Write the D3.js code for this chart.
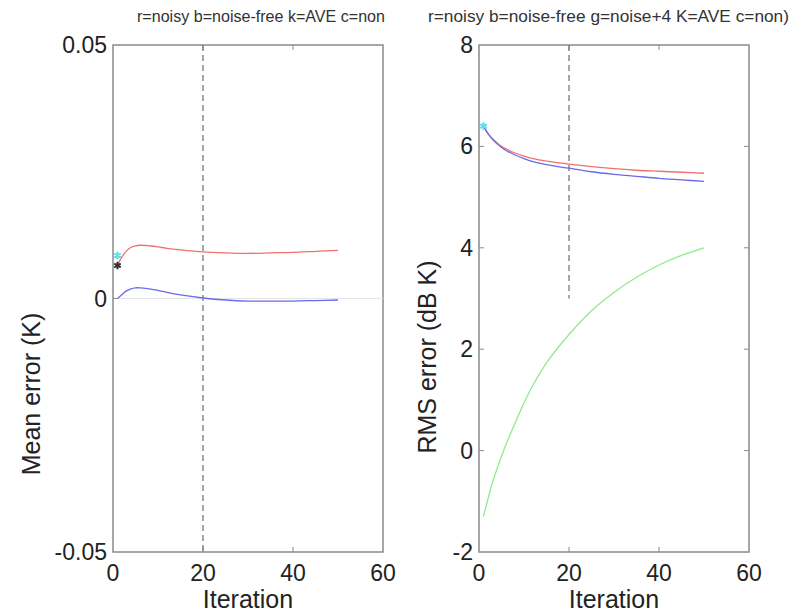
<!DOCTYPE html>
<html>
<head>
<meta charset="utf-8">
<script src="https://cdn.jsdelivr.net/npm/d3@7"></script>
<style>
  body { margin: 0; background: #fff; }
  text { font-family: "Liberation Sans", Arial, sans-serif; fill: #222; }
</style>
</head>
<body>
<svg id="chart" width="799" height="615"></svg>
<script>
// iterations sampled from the curves
const iterations = [1, 2, 3, 4, 5, 6, 8, 10, 12, 15, 20, 25, 30, 35, 40, 45, 50];

// left panel: mean error (K)
const meanNoisy = [0.0066, 0.0082, 0.0094, 0.0101, 0.0104, 0.0105, 0.0104, 0.0102, 0.0099, 0.0096, 0.0092, 0.0090, 0.0089, 0.0090, 0.0091, 0.0093, 0.0095];
const meanFree  = [0.0000, 0.0008, 0.0015, 0.0019, 0.0021, 0.0021, 0.0019, 0.0016, 0.0012, 0.0007, 0.0001, -0.0003, -0.0005, -0.0005, -0.0005, -0.0004, -0.0003];
const meanAve = 0.0065;
const meanNon = 0.0085;

// right panel: RMS error (dB K)
const rmsNoisy = [6.40, 6.25, 6.15, 6.07, 6.00, 5.95, 5.87, 5.81, 5.76, 5.71, 5.65, 5.60, 5.56, 5.53, 5.51, 5.49, 5.47];
const rmsFree  = [6.40, 6.25, 6.14, 6.05, 5.98, 5.92, 5.83, 5.76, 5.70, 5.64, 5.57, 5.50, 5.45, 5.41, 5.37, 5.34, 5.31];
const rmsNoise4 = [-1.30, -0.95, -0.63, -0.36, -0.11, 0.12, 0.54, 0.94, 1.29, 1.73, 2.29, 2.76, 3.12, 3.42, 3.66, 3.85, 4.00];
const rmsNon = 6.4;

const xTicks = [0, 20, 40, 60];
const leftYTicks = [-0.05, 0, 0.05];
const leftYLabels = ["-0.05", "0", "0.05"];
const rightYTicks = [-2, 0, 2, 4, 6, 8];

const svg = d3.select("#chart");
const plotTop = 45, plotBottom = 552;
const frame = "#8a8a8a";

function panel(cfg) {
  const x = d3.scaleLinear().domain([0, 60]).range([cfg.left, cfg.left + 270]);
  const y = d3.scaleLinear().domain(cfg.yDomain).range([plotBottom, plotTop]);
  const g = svg.append("g");

  // frame
  g.append("rect")
    .attr("x", x(0)).attr("y", y(cfg.yDomain[1]))
    .attr("width", x(60) - x(0)).attr("height", y(cfg.yDomain[0]) - y(cfg.yDomain[1]))
    .attr("fill", "none").attr("stroke", frame).attr("stroke-width", 1.5);

  // inward ticks
  const tk = 5;
  xTicks.slice(1, -1).forEach(t => {
    g.append("line").attr("x1", x(t)).attr("x2", x(t)).attr("y1", plotBottom).attr("y2", plotBottom - tk).attr("stroke", frame);
    g.append("line").attr("x1", x(t)).attr("x2", x(t)).attr("y1", plotTop).attr("y2", plotTop + tk).attr("stroke", frame);
  });
  cfg.yTicks.slice(1, -1).forEach(t => {
    g.append("line").attr("x1", x(0)).attr("x2", x(0) + tk).attr("y1", y(t)).attr("y2", y(t)).attr("stroke", frame);
    g.append("line").attr("x1", x(60)).attr("x2", x(60) - tk).attr("y1", y(t)).attr("y2", y(t)).attr("stroke", frame);
  });

  // tick labels
  g.selectAll(".xl").data(xTicks).enter().append("text")
    .attr("x", d => x(d)).attr("y", plotBottom + 29)
    .attr("text-anchor", "middle").style("font-size", "23px").text(d => d);
  g.selectAll(".yl").data(cfg.yTicks).enter().append("text")
    .attr("x", x(0) - 6).attr("y", d => y(d) + 8)
    .attr("text-anchor", "end").style("font-size", "23px")
    .text((d, i) => cfg.yLabels ? cfg.yLabels[i] : d);

  // axis titles
  g.append("text").attr("x", x(30)).attr("y", 608)
    .attr("text-anchor", "middle").style("font-size", "25px").text("Iteration");
  g.append("text")
    .attr("transform", `translate(${cfg.ylabX},${cfg.ylabY}) rotate(-90)`)
    .attr("text-anchor", "middle").style("font-size", "25px").text(cfg.ylabel);
  g.append("text").attr("x", cfg.titleX).attr("y", 22)
    .attr("textLength", cfg.titleW).attr("lengthAdjust", "spacingAndGlyphs")
    .style("font-size", "17px").style("fill", "#333").text(cfg.title);

  // dashed marker at iteration 20
  g.append("line").attr("x1", x(20)).attr("x2", x(20))
    .attr("y1", y(cfg.yDomain[1])).attr("y2", y(cfg.dashEnd))
    .attr("stroke", "#777").attr("stroke-width", 1.3).attr("stroke-dasharray", "6,4");

  const zero = g.append("g");
  const line = d3.line().x((d, i) => x(iterations[i])).y(d => y(d)).curve(d3.curveCatmullRom);
  cfg.series.forEach(s => {
    g.append("path").datum(s.values).attr("d", line)
      .attr("fill", "none").attr("stroke", s.color).attr("stroke-width", 1.3);
  });
  cfg.markers.forEach(m => {
    g.append("path").attr("d", d3.symbol(d3.symbolAsterisk, 40)())
      .attr("transform", `translate(${x(1)},${y(m.v)})`)
      .attr("fill", "none").attr("stroke", m.color).attr("stroke-width", 2);
  });
  return { x, y, zero };
}

const L = panel({
  left: 113, yDomain: [-0.05, 0.05], yTicks: leftYTicks, yLabels: leftYLabels,
  ylabel: "Mean error (K)", ylabX: 40, ylabY: 394,
  title: "r=noisy b=noise-free k=AVE c=non", titleX: 137, titleW: 248,
  dashEnd: -0.05,
  series: [
    { values: meanNoisy, color: "#f07070" },
    { values: meanFree, color: "#6a6ae8" }
  ],
  markers: [{ v: meanNon, color: "#5fe0e8" }, { v: meanAve, color: "#333" }]
});
// faint zero reference line
L.zero.append("line").attr("x1", L.x(1)).attr("x2", L.x(60)).attr("y1", L.y(0)).attr("y2", L.y(0))
  .attr("stroke", "#e4e4ea").attr("stroke-width", 1.2);

panel({
  left: 479, yDomain: [-2, 8], yTicks: rightYTicks,
  ylabel: "RMS error (dB K)", ylabX: 436, ylabY: 357,
  title: "r=noisy b=noise-free g=noise+4 K=AVE c=non)", titleX: 428, titleW: 361,
  dashEnd: 3,
  series: [
    { values: rmsNoise4, color: "#90ea90" },
    { values: rmsNoisy, color: "#f07070" },
    { values: rmsFree, color: "#6a6ae8" }
  ],
  markers: [{ v: rmsNon, color: "#5fe0e8" }]
});
</script>
</body>
</html>
